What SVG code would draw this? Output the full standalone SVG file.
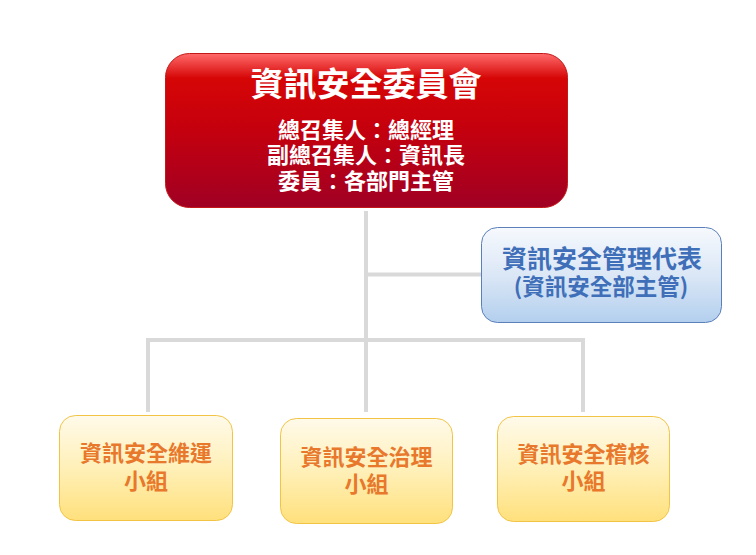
<svg xmlns="http://www.w3.org/2000/svg" width="756" height="555" viewBox="0 0 756 555">
<defs>
<linearGradient id="gRed" x1="0" y1="0" x2="0" y2="1">
<stop offset="0" stop-color="#ff6a6a"/>
<stop offset="0.16" stop-color="#d60606"/>
<stop offset="0.5" stop-color="#c4000e"/>
<stop offset="1" stop-color="#a00024"/>
</linearGradient>
<linearGradient id="gBlue" x1="0" y1="0" x2="0" y2="1">
<stop offset="0" stop-color="#f6f9fd"/>
<stop offset="0.5" stop-color="#dbe7f6"/>
<stop offset="1" stop-color="#b3cfee"/>
</linearGradient>
<linearGradient id="gOrange" x1="0" y1="0" x2="0" y2="1">
<stop offset="0" stop-color="#fffaea"/>
<stop offset="0.5" stop-color="#fff0b8"/>
<stop offset="1" stop-color="#ffe07c"/>
</linearGradient>
</defs>
<style>
text{font-family:"Noto Sans CJK TC","Noto Sans CJK SC",sans-serif;font-weight:bold;text-anchor:middle}
.red text{fill:#ffffff}
.blue text{fill:#3f6fb8}
.org text{fill:#e8782c;font-size:22px}
.conn{fill:none;stroke:#d9d9d9;stroke-width:4}
</style>
<rect width="756" height="555" fill="#ffffff"/>
<g id="connectors">
<path class="conn" d="M366 211 V412"/>
<path class="conn" d="M366 274.5 H481"/>
<path class="conn" d="M148 412 V340 H583 V412"/>
</g>
<g id="committee" class="red">
<rect x="165.5" y="53.5" width="402" height="154" rx="24" fill="url(#gRed)" stroke="#c21818" stroke-width="1"/>
<text x="366" y="96" font-size="33">資訊安全委員會</text>
<text x="366" y="138" font-size="22">總召集人：總經理</text>
<text x="366" y="163" font-size="22">副總召集人：資訊長</text>
<text x="366" y="189" font-size="22">委員：各部門主管</text>
</g>
<g id="representative" class="blue">
<rect x="481.5" y="227.5" width="240" height="95" rx="16" fill="url(#gBlue)" stroke="#5b80b9" stroke-width="1"/>
<text x="602" y="268" font-size="25">資訊安全管理代表</text>
<text x="601" y="295" font-size="22.5">(資訊安全部主管)</text>
</g>
<g id="ops" class="org">
<rect x="59.5" y="415.5" width="173" height="105" rx="16" fill="url(#gOrange)" stroke="#f2c445" stroke-width="1"/>
<text x="146" y="461">資訊安全維運</text>
<text x="146" y="489">小組</text>
</g>
<g id="gov" class="org">
<rect x="280.5" y="418.5" width="172" height="105" rx="16" fill="url(#gOrange)" stroke="#f2c445" stroke-width="1"/>
<text x="366.5" y="465">資訊安全治理</text>
<text x="366.5" y="492">小組</text>
</g>
<g id="audit" class="org">
<rect x="497.5" y="416.5" width="172" height="105" rx="16" fill="url(#gOrange)" stroke="#f2c445" stroke-width="1"/>
<text x="583.5" y="462">資訊安全稽核</text>
<text x="583.5" y="489">小組</text>
</g>
</svg>
